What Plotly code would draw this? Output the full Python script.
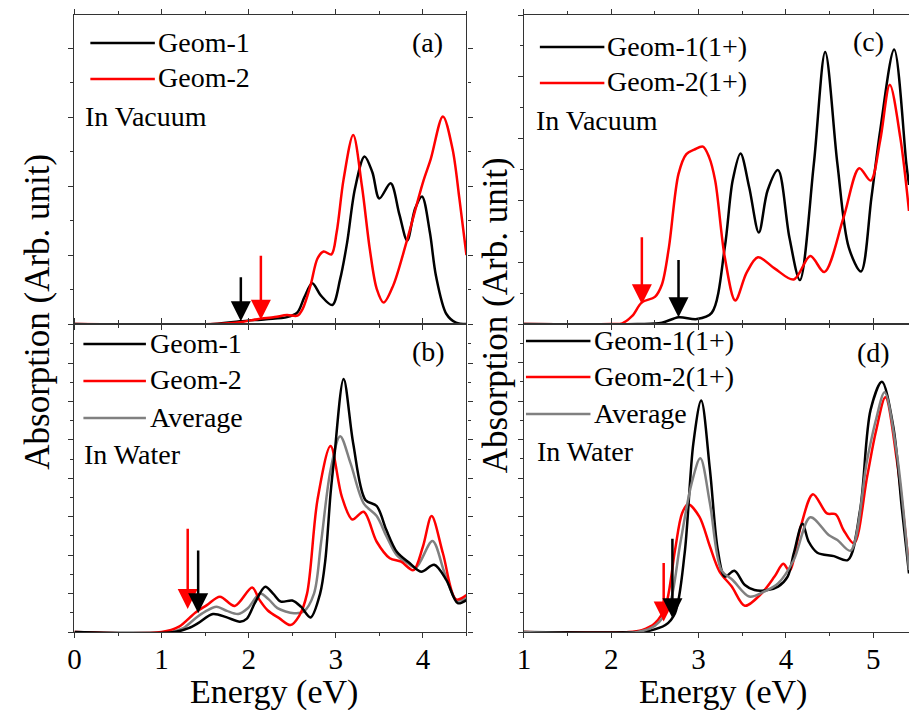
import plotly.graph_objects as go

# ---------------- data ----------------
# Panel (a): in vacuum, neutral
a_geom1_E = [0, 1.6, 1.9, 2.2, 2.44, 2.56, 2.64, 2.73, 2.83, 2.96, 3.05, 3.13, 3.22, 3.33, 3.42, 3.5, 3.63, 3.73, 3.82, 3.91, 3.99, 4.08, 4.15, 4.27, 4.38, 4.5]
a_geom1_y = [0, 0, 0.04, 0.07, 0.1, 0.17, 0.39, 0.59, 0.41, 0.275, 0.65, 1.18, 1.96, 2.43, 2.2, 1.82, 2.04, 1.59, 1.21, 1.67, 1.85, 1.33, 0.70, 0.145, 0.02, 0]
a_geom2_E = [0, 1.6, 1.92, 2.1, 2.3, 2.44, 2.56, 2.62, 2.71, 2.79, 2.86, 2.95, 3.01, 3.09, 3.2, 3.3, 3.39, 3.47, 3.55, 3.66, 3.81, 4.0, 4.09, 4.23, 4.34, 4.42, 4.5]
a_geom2_y = [0, 0, 0.03, 0.07, 0.1, 0.13, 0.12, 0.22, 0.56, 0.95, 1.05, 1.01, 1.33, 2.1, 2.74, 2.0, 1.09, 0.51, 0.31, 0.56, 1.18, 2.05, 2.39, 3.01, 2.54, 1.81, 1.0]

# Panel (b): in water, neutral
b_geom1_E = [0, 1.15, 1.31, 1.42, 1.59, 1.75, 1.90, 1.98, 2.07, 2.19, 2.28, 2.37, 2.50, 2.60, 2.71, 2.82, 2.88, 2.94, 2.98, 3.09, 3.20, 3.34, 3.47, 3.58, 3.70, 3.85, 3.98, 4.13, 4.27, 4.40, 4.5]
b_geom1_y = [0, 0, 0.1, 0.23, 0.47, 0.38, 0.27, 0.35, 0.75, 1.18, 1.0, 0.79, 0.82, 0.66, 0.38, 1.0, 1.87, 3.6, 4.48, 6.59, 4.91, 3.44, 3.28, 2.66, 2.09, 1.79, 1.57, 1.75, 1.35, 0.75, 0.83]
b_geom2_E = [0, 1.0, 1.2, 1.39, 1.52, 1.67, 1.84, 2.04, 2.12, 2.22, 2.35, 2.48, 2.58, 2.67, 2.79, 2.94, 3.07, 3.19, 3.32, 3.47, 3.62, 3.75, 3.89, 4.0, 4.10, 4.23, 4.38, 4.5]
b_geom2_y = [0, 0, 0.14, 0.51, 0.70, 0.92, 0.68, 1.16, 0.85, 0.56, 0.36, 0.18, 0.42, 1.0, 3.44, 4.84, 3.52, 2.93, 3.13, 2.35, 1.92, 1.83, 1.61, 2.22, 3.02, 2.05, 0.85, 0.96]
b_avg_E = [0, 1.1, 1.25, 1.39, 1.5, 1.63, 1.75, 1.88, 1.99, 2.13, 2.23, 2.33, 2.52, 2.63, 2.75, 2.83, 2.94, 3.05, 3.17, 3.32, 3.47, 3.58, 3.70, 3.82, 3.92, 4.11, 4.25, 4.39, 4.5]
b_avg_y = [0, 0, 0.1, 0.36, 0.53, 0.66, 0.55, 0.47, 0.62, 1.0, 0.85, 0.62, 0.49, 0.53, 1.0, 2.31, 4.22, 5.10, 4.39, 3.35, 3.02, 2.5, 2.0, 1.8, 1.68, 2.37, 1.53, 0.82, 0.88]

# Panel (c): in vacuum, cation
c_geom1_E = [1, 2.3, 2.58, 2.77, 2.98, 3.15, 3.30, 3.39, 3.48, 3.58, 3.69, 3.79, 3.91, 4.04, 4.16, 4.32, 4.45, 4.59, 4.72, 4.86, 4.98, 5.08, 5.24, 5.38, 5.41]
c_geom1_y = [0, 0, 0.02, 0.11, 0.08, 0.18, 1.24, 2.32, 2.76, 2.21, 1.48, 2.16, 2.49, 1.40, 0.71, 2.59, 4.40, 2.59, 1.24, 0.85, 2.05, 3.13, 4.44, 2.59, 2.25]
c_geom2_E = [1, 2.0, 2.125, 2.24, 2.35, 2.5, 2.58, 2.66, 2.77, 2.86, 2.95, 3.05, 3.12, 3.19, 3.30, 3.42, 3.55, 3.68, 3.87, 4.09, 4.28, 4.44, 4.66, 4.84, 4.97, 5.08, 5.19, 5.31, 5.41]
c_geom2_y = [0, 0, 0.01, 0.13, 0.35, 0.44, 0.64, 1.24, 2.43, 2.75, 2.82, 2.87, 2.7, 2.32, 1.08, 0.38, 0.83, 1.08, 0.90, 0.72, 1.10, 0.84, 1.72, 2.52, 2.32, 2.97, 3.87, 3.02, 1.83]

# Panel (d): in water, cation
d_geom1_E = [1, 2.3, 2.43, 2.62, 2.73, 2.84, 2.94, 3.03, 3.13, 3.22, 3.30, 3.41, 3.53, 3.64, 3.79, 3.91, 4.02, 4.09, 4.19, 4.26, 4.36, 4.55, 4.71, 4.85, 4.97, 5.10, 5.23, 5.33, 5.41]
d_geom1_y = [0, 0, 0.03, 0.18, 0.49, 2.04, 4.9, 6.01, 4.21, 2.13, 1.44, 1.59, 1.22, 1.09, 1.09, 1.18, 1.44, 2.04, 2.81, 2.35, 2.06, 1.97, 1.87, 3.17, 5.77, 6.50, 5.33, 3.17, 1.52]
d_geom2_E = [1, 2.2, 2.35, 2.50, 2.62, 2.73, 2.81, 2.88, 3.01, 3.13, 3.24, 3.38, 3.53, 3.72, 3.87, 3.97, 4.04, 4.17, 4.31, 4.47, 4.57, 4.66, 4.78, 4.93, 5.03, 5.14, 5.27, 5.41]
d_geom2_y = [0, 0, 0.05, 0.23, 0.66, 2.13, 3.08, 3.32, 2.99, 2.22, 1.57, 1.18, 0.68, 1.0, 1.44, 1.77, 1.59, 2.74, 3.58, 3.08, 3.06, 2.65, 2.30, 4.03, 5.2, 6.10, 4.47, 1.67]
d_avg_E = [1, 2.3, 2.50, 2.66, 2.79, 2.92, 3.02, 3.13, 3.26, 3.39, 3.58, 3.75, 3.91, 4.09, 4.28, 4.49, 4.59, 4.74, 4.93, 5.03, 5.13, 5.27, 5.41]
d_avg_y = [0, 0, 0.16, 0.66, 2.30, 3.86, 4.51, 3.34, 1.61, 1.35, 0.92, 1.05, 1.26, 1.87, 2.98, 2.52, 2.39, 2.11, 4.47, 5.5, 6.23, 4.64, 1.61]

# Arrows: (E, tail y, tip y, colour) for each panel
arrows_a = [(1.91, 0.70, 0.04, "black"), (2.14, 1.01, 0.06, "red")]
arrows_b = [(1.30, 2.73, 0.60, "red"), (1.42, 2.16, 0.49, "black")]
arrows_c = [(2.35, 1.43, 0.32, "red"), (2.77, 1.06, 0.11, "black")]
arrows_d = [(2.60, 1.83, 0.27, "red"), (2.70, 2.46, 0.36, "black")]

# Axis ranges / ticks
left_x_range = [0, 4.5]
right_x_range = [1, 5.41]
left_x_ticks = [0, 1, 2, 3, 4]
right_x_ticks = [1, 2, 3, 4, 5]

W, H = 909, 710
FONT = "Liberation Serif, Times New Roman, Tinos, DejaVu Serif, serif"
BLACK, RED, GRAY = "#000000", "#ff0000", "#808080"


def px(x):
    return x / W


def py(y):
    return 1 - y / H


fig = go.Figure()


def add_line(E, y, color, ax):
    fig.add_trace(go.Scatter(
        x=E, y=y, mode="lines", line=dict(color=color, width=2.5, shape="spline", smoothing=0.9),
        xaxis="x" + ax, yaxis="y" + ax, showlegend=False, hoverinfo="skip"))


add_line(a_geom1_E, a_geom1_y, BLACK, "")
add_line(a_geom2_E, a_geom2_y, RED, "")
add_line(b_avg_E, b_avg_y, GRAY, "2")
add_line(b_geom2_E, b_geom2_y, RED, "2")
add_line(b_geom1_E, b_geom1_y, BLACK, "2")
add_line(c_geom1_E, c_geom1_y, BLACK, "3")
add_line(c_geom2_E, c_geom2_y, RED, "3")
add_line(d_geom2_E, d_geom2_y, RED, "4")
add_line(d_geom1_E, d_geom1_y, BLACK, "4")
add_line(d_avg_E, d_avg_y, GRAY, "4")

# domains (pixel layout)
LX = [px(68), px(463)]
RX = [px(521), 1.0]
TOP = [py(324), py(15)]
BOT = [py(632), py(324)]

axcol = "#333333"
common_x = dict(showline=True, linecolor=axcol, linewidth=1.2, ticks="outside", ticklen=5,
                tickcolor=axcol, tickwidth=1.2, mirror="allticks", showgrid=False, zeroline=False,
                dtick=1, minor=dict(dtick=0.5, ticklen=3, tickcolor=axcol, ticks="outside", showgrid=False),
                tickfont=dict(family=FONT, size=29, color="black"), ticklabelstandoff=-4)
common_y = dict(showline=True, linecolor=axcol, linewidth=1.2, ticks="outside", ticklen=5,
                tickcolor=axcol, tickwidth=1.2, showgrid=False, zeroline=False, showticklabels=False,
                dtick=1, minor=dict(dtick=0.5, ticklen=3, tickcolor=axcol, ticks="outside", showgrid=False))

fig.update_layout(
    width=W, height=H, margin=dict(l=0, r=0, t=0, b=0),
    paper_bgcolor="white", plot_bgcolor="white",
    font=dict(family=FONT, color="black"),
    xaxis=dict(common_x, domain=LX, range=left_x_range, anchor="y", showticklabels=False),
    yaxis=dict(common_y, domain=TOP, range=[0, 4.48], anchor="x", mirror="allticks"),
    xaxis2=dict(common_x, domain=LX, range=left_x_range, anchor="y2", tickvals=left_x_ticks),
    yaxis2=dict(common_y, domain=BOT, range=[0, 8.02], anchor="x2", mirror="allticks"),
    xaxis3=dict(common_x, domain=RX, range=right_x_range, anchor="y3", showticklabels=False),
    yaxis3=dict(common_y, domain=TOP, range=[0, 5.0], anchor="x3", mirror=False),
    xaxis4=dict(common_x, domain=RX, range=right_x_range, anchor="y4", tickvals=right_x_ticks),
    yaxis4=dict(common_y, domain=BOT, range=[0, 8.0], anchor="x4", mirror=False),
)

annotations = []
shapes = []


def text(x, y, s, size=28, xanchor="left"):
    annotations.append(dict(x=px(x), y=py(y), xref="paper", yref="paper", text=s, showarrow=False,
                            xanchor=xanchor, yanchor="middle", font=dict(family=FONT, size=size, color="black")))


def legend_line(x0, x1, y, color):
    shapes.append(dict(type="line", xref="paper", yref="paper", x0=px(x0), x1=px(x1), y0=py(y), y1=py(y),
                       line=dict(color=color, width=2.5)))


# Panel (a) legend
legend_line(84, 149, 43, BLACK); text(150, 42, "Geom-1")
legend_line(84, 149, 79, RED); text(150, 78, "Geom-2")
text(77, 116, "In Vacuum")
text(424, 42, "(a)", xanchor="center")
# Panel (b) legend
legend_line(77, 140, 344, BLACK); text(142, 343, "Geom-1")
legend_line(77, 140, 381, RED); text(142, 380, "Geom-2")
legend_line(77, 140, 418, GRAY); text(142, 417, "Average")
text(76, 454, "In Water")
text(425, 351, "(b)", xanchor="center")
# Panel (c) legend
legend_line(537, 602, 47, BLACK); text(603, 46, "Geom-1(1+)")
legend_line(537, 602, 83, RED); text(603, 82, "Geom-2(1+)")
text(531, 120, "In Vacuum")
text(868, 41, "(c)", xanchor="center")
# Panel (d) legend
legend_line(523, 588, 341, BLACK); text(590, 340, "Geom-1(1+)")
legend_line(523, 588, 377, RED); text(590, 376, "Geom-2(1+)")
legend_line(523, 588, 414, GRAY); text(590, 413, "Average")
text(532, 451, "In Water")
text(873, 352, "(d)", xanchor="center")

# axis titles
annotations.append(dict(x=px(30), y=py(312), xref="paper", yref="paper", text="Absorption (Arb. unit)",
                        textangle=-90, showarrow=False, xanchor="center", yanchor="middle",
                        font=dict(family=FONT, size=35, color="black")))
annotations.append(dict(x=px(492), y=py(315), xref="paper", yref="paper", text="Absorption (Arb. unit)",
                        textangle=-90, showarrow=False, xanchor="center", yanchor="middle",
                        font=dict(family=FONT, size=35, color="black")))
annotations.append(dict(x=px(269), y=py(692), xref="paper", yref="paper", text="Energy (eV)",
                        showarrow=False, xanchor="center", yanchor="middle",
                        font=dict(family=FONT, size=34, color="black")))
annotations.append(dict(x=px(722), y=py(692), xref="paper", yref="paper", text="Energy (eV)",
                        showarrow=False, xanchor="center", yanchor="middle",
                        font=dict(family=FONT, size=34, color="black")))

# arrows
for arrs, ax in [(arrows_a, ""), (arrows_b, "2"), (arrows_c, "3"), (arrows_d, "4")]:
    for E, tail, tip, col in arrs:
        annotations.append(dict(x=E, y=tip, ax=E, ay=tail, xref="x" + ax, yref="y" + ax,
                                axref="x" + ax, ayref="y" + ax, text="", showarrow=True,
                                arrowhead=2, arrowsize=1.6, arrowwidth=2.5, arrowcolor=col))

fig.update_layout(annotations=annotations, shapes=shapes)
fig.write_html("out.html", config={"displayModeBar": False},
               post_script="document.body.style.margin='0px';document.body.style.padding='0px';")
